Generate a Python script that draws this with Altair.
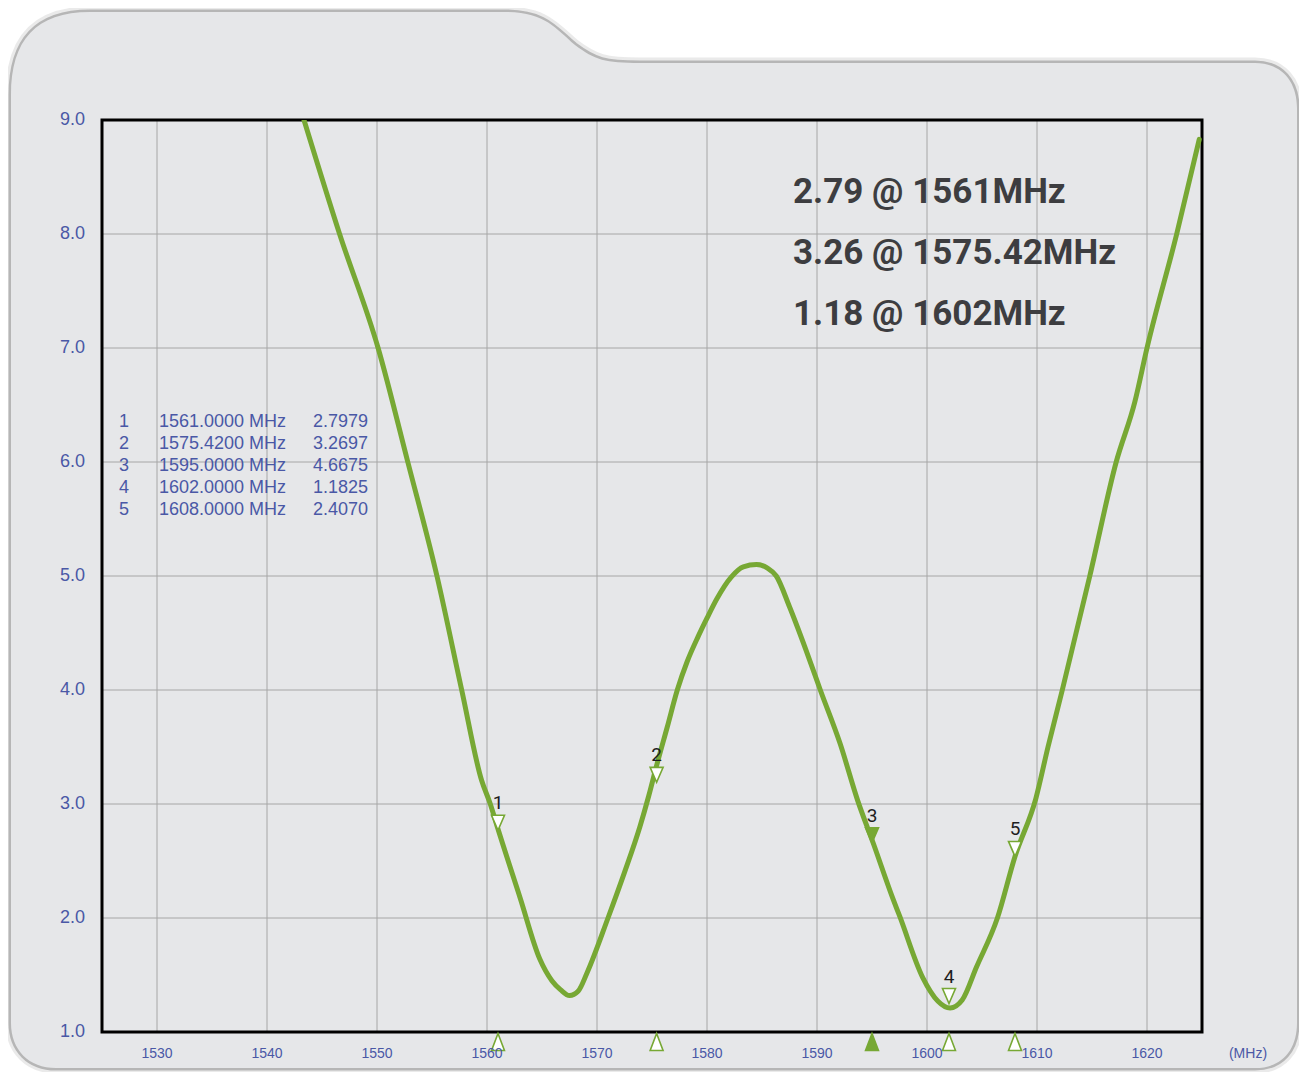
import altair as alt
import pandas as pd

# ---------------- data ----------------
freq = [1543.3, 1546.6, 1550.1, 1552.8, 1555.45, 1557.7, 1559.5, 1560.3, 1561.0,
        1563.0, 1564.8, 1565.9, 1566.7, 1567.5, 1568.3, 1569.1, 1571.0, 1572.5,
        1573.9, 1574.7, 1575.4, 1576.4, 1577.3, 1578.2, 1579.2, 1580.0, 1580.9,
        1582.2, 1583.3, 1584.5, 1585.5, 1586.3, 1587.5, 1589.0, 1590.3, 1592.1,
        1593.7, 1595.1, 1596.9, 1597.5, 1599.6, 1601.0, 1602.1, 1603.2, 1604.5,
        1606.4, 1608.0, 1609.9, 1611.0, 1612.3, 1614.8, 1617.2, 1618.9, 1620.0,
        1622.7, 1624.75]
vswr = [9.02, 8.0, 7.0, 6.0, 5.0, 4.0, 3.21, 3.0, 2.78,
        2.18, 1.64, 1.45, 1.37, 1.32, 1.36, 1.52, 2.0, 2.40,
        2.80, 3.07, 3.33, 3.68, 4.0, 4.25, 4.47, 4.63, 4.80,
        4.99, 5.08, 5.10, 5.07, 5.0, 4.73, 4.35, 4.0, 3.53,
        3.03, 2.66, 2.17, 2.02, 1.48, 1.27, 1.21, 1.28, 1.57,
        2.0, 2.54, 3.05, 3.5, 4.0, 5.0, 6.0, 6.53, 7.0,
        8.0, 8.83]

x_ticks = [1530, 1540, 1550, 1560, 1570, 1580, 1590, 1600, 1610, 1620]
y_ticks = [1, 2, 3, 4, 5, 6, 7, 8, 9]

marker_no = [1, 2, 3, 4, 5]
marker_freq = [1561.0, 1575.42, 1595.0, 1602.0, 1608.0]
marker_value = [2.7979, 3.2697, 4.6675, 1.1825, 2.4070]
marker_plot_y = [2.77, 3.19, 2.66, 1.25, 2.54]
marker_active = [False, False, True, False, False]

summary_lines = ["2.79 @ 1561MHz", "3.26 @ 1575.42MHz", "1.18 @ 1602MHz"]
unit_label = "(MHz)"

# ---------------- styling ----------------
W, H = 1100, 912
OX, OY = 102, 120          # page position of the plot origin
GREEN = "#77a834"
BLUE = "#4a58a6"
CARD = "#e6e7e9"
GRID = "#a6a6a6"

xs = alt.Scale(domain=[1525, 1625], nice=False, zero=False)
ys = alt.Scale(domain=[1, 9], nice=False, zero=False)

one = pd.DataFrame({"k": [0]})

# card outline (decoration), as a custom symbol path scaled 1000x
CX, CY = 655, 546


def P(x, y):
    return f"{(x - CX) / 1000:.4f},{(y - CY) / 1000:.4f}"


BOT = 1068
card_path = (
    "M" + P(11, 95)
    + "C" + P(11, 40) + " " + P(36, 12) + " " + P(90, 12)
    + "L" + P(505, 12)
    + "C" + P(545, 12) + " " + P(555, 28) + " " + P(575, 45)
    + "C" + P(595, 60) + " " + P(605, 63) + " " + P(640, 63)
    + "L" + P(1255, 63)
    + "C" + P(1282, 63) + " " + P(1297, 82) + " " + P(1297, 108)
    + "L" + P(1297, BOT - 45)
    + "C" + P(1297, BOT - 18) + " " + P(1282, BOT) + " " + P(1255, BOT)
    + "L" + P(56, BOT)
    + "C" + P(29, BOT) + " " + P(11, BOT - 18) + " " + P(11, BOT - 45)
    + "Z"
)
card_pos = dict(x=alt.value(CX - OX), y=alt.value(CY - OY), size=alt.value(4000000))

shadow_wide = alt.Chart(one).mark_point(
    shape=card_path, filled=False, stroke="#6a6a6a", strokeWidth=11,
    strokeOpacity=0.14, opacity=1).encode(**card_pos)
shadow_narrow = alt.Chart(one).mark_point(
    shape=card_path, filled=False, stroke="#6a6a6a", strokeWidth=5,
    strokeOpacity=0.4, opacity=1).encode(**card_pos)
card = alt.Chart(one).mark_point(
    shape=card_path, filled=True, fill=CARD, strokeWidth=0, opacity=1).encode(**card_pos)

# grid
vgrid = alt.Chart(pd.DataFrame({"t": x_ticks})).mark_rule(
    color=GRID, strokeWidth=1).encode(x=alt.X("t:Q", scale=xs, axis=None))
hgrid = alt.Chart(pd.DataFrame({"t": y_ticks})).mark_rule(
    color=GRID, strokeWidth=1).encode(y=alt.Y("t:Q", scale=ys, axis=None))

frame = alt.Chart(one).mark_rect(
    fillOpacity=0, stroke="black", strokeWidth=3).encode(
    x=alt.value(0), x2=alt.value(W), y=alt.value(0), y2=alt.value(H))

# tick labels (drawn through the scales)
xlab = alt.Chart(pd.DataFrame({"t": x_ticks})).mark_text(
    align="center", baseline="middle", font="Liberation Sans", fontSize=14,
    color=BLUE).encode(
    x=alt.X("t:Q", scale=xs, axis=None), y=alt.value(H + 22),
    text=alt.Text("t:Q", format="d"))
ylab = alt.Chart(pd.DataFrame({"t": y_ticks})).mark_text(
    align="right", baseline="middle", font="Liberation Sans", fontSize=18,
    color=BLUE).encode(
    y=alt.Y("t:Q", scale=ys, axis=None), x=alt.value(-17),
    text=alt.Text("t:Q", format=".1f"))

# curve
curve_df = pd.DataFrame({"f": freq, "v": vswr})
curve = alt.Chart(curve_df).mark_line(
    color=GREEN, strokeWidth=5, interpolate="monotone", clip=True,
    strokeCap="round", strokeJoin="round").encode(
    x=alt.X("f:Q", scale=xs, axis=None),
    y=alt.Y("v:Q", scale=ys, axis=None),
    order="f:Q",
)

# markers
mk_df = pd.DataFrame({"n": marker_no, "f": marker_freq, "y": marker_plot_y,
                      "active": marker_active,
                      "label": [str(n) for n in marker_no]})
tri_down = "M-0.433,-0.5L0.433,-0.5L0,0.5Z"
tri_up = "M0,-0.5L0.38,0.5L-0.38,0.5Z"
fill_cond = alt.condition("datum.active", alt.value(GREEN), alt.value("white"))

markers = alt.Chart(mk_df).mark_point(
    shape=tri_down, size=900, filled=True, stroke=GREEN, strokeWidth=1.6,
    opacity=1, yOffset=-7.5).encode(
    x=alt.X("f:Q", scale=xs, axis=None), y=alt.Y("y:Q", scale=ys, axis=None),
    fill=fill_cond)
marker_labels = alt.Chart(mk_df).mark_text(
    dy=-21, baseline="alphabetic", align="center", font="Roboto",
    fontSize=19, color="#1e1e1e").encode(
    x=alt.X("f:Q", scale=xs, axis=None), y=alt.Y("y:Q", scale=ys, axis=None),
    text="label:N")
bottom_markers = alt.Chart(mk_df).mark_point(
    shape=tri_up, size=1156, filled=True, stroke=GREEN, strokeWidth=1.6,
    opacity=1).encode(
    x=alt.X("f:Q", scale=xs, axis=None), y=alt.value(922), fill=fill_cond)

# marker table
idx_lines = [str(n) for n in marker_no]
freq_lines = [f"{f:.4f} MHz" for f in marker_freq]
val_lines = [f"{v:.4f}" for v in marker_value]
tbl_style = dict(baseline="alphabetic", lineHeight=22, font="Liberation Sans",
                 fontSize=18, color=BLUE)
tbl_idx = alt.Chart(one).mark_text(align="left", **tbl_style).encode(
    x=alt.value(17), y=alt.value(307), text=alt.value(idx_lines))
tbl_freq = alt.Chart(one).mark_text(align="left", **tbl_style).encode(
    x=alt.value(57), y=alt.value(307), text=alt.value(freq_lines))
tbl_val = alt.Chart(one).mark_text(align="right", **tbl_style).encode(
    x=alt.value(266), y=alt.value(307), text=alt.value(val_lines))

summary = alt.Chart(one).mark_text(
    align="left", baseline="alphabetic", lineHeight=61, font="Roboto",
    fontWeight="bold", fontSize=35, color="#3d3d40").encode(
    x=alt.value(691), y=alt.value(83), text=alt.value(summary_lines))

mhz = alt.Chart(one).mark_text(
    align="center", baseline="middle", font="Liberation Sans", fontSize=14,
    color=BLUE).encode(x=alt.value(1146), y=alt.value(H + 22), text=alt.value(unit_label))

chart = alt.layer(
    shadow_wide, shadow_narrow, card, vgrid, hgrid, frame, curve, markers,
    marker_labels, bottom_markers, xlab, ylab, tbl_idx, tbl_freq, tbl_val,
    summary, mhz
).properties(
    width=W, height=H,
    padding={"left": OX - 8, "top": OY - 8, "right": 97, "bottom": 40},
    autosize=alt.AutoSizeParams(type="none"),
    background="white",
).configure_view(strokeWidth=0)

chart.save("out.html", embed_options={"renderer": "svg", "actions": False})
